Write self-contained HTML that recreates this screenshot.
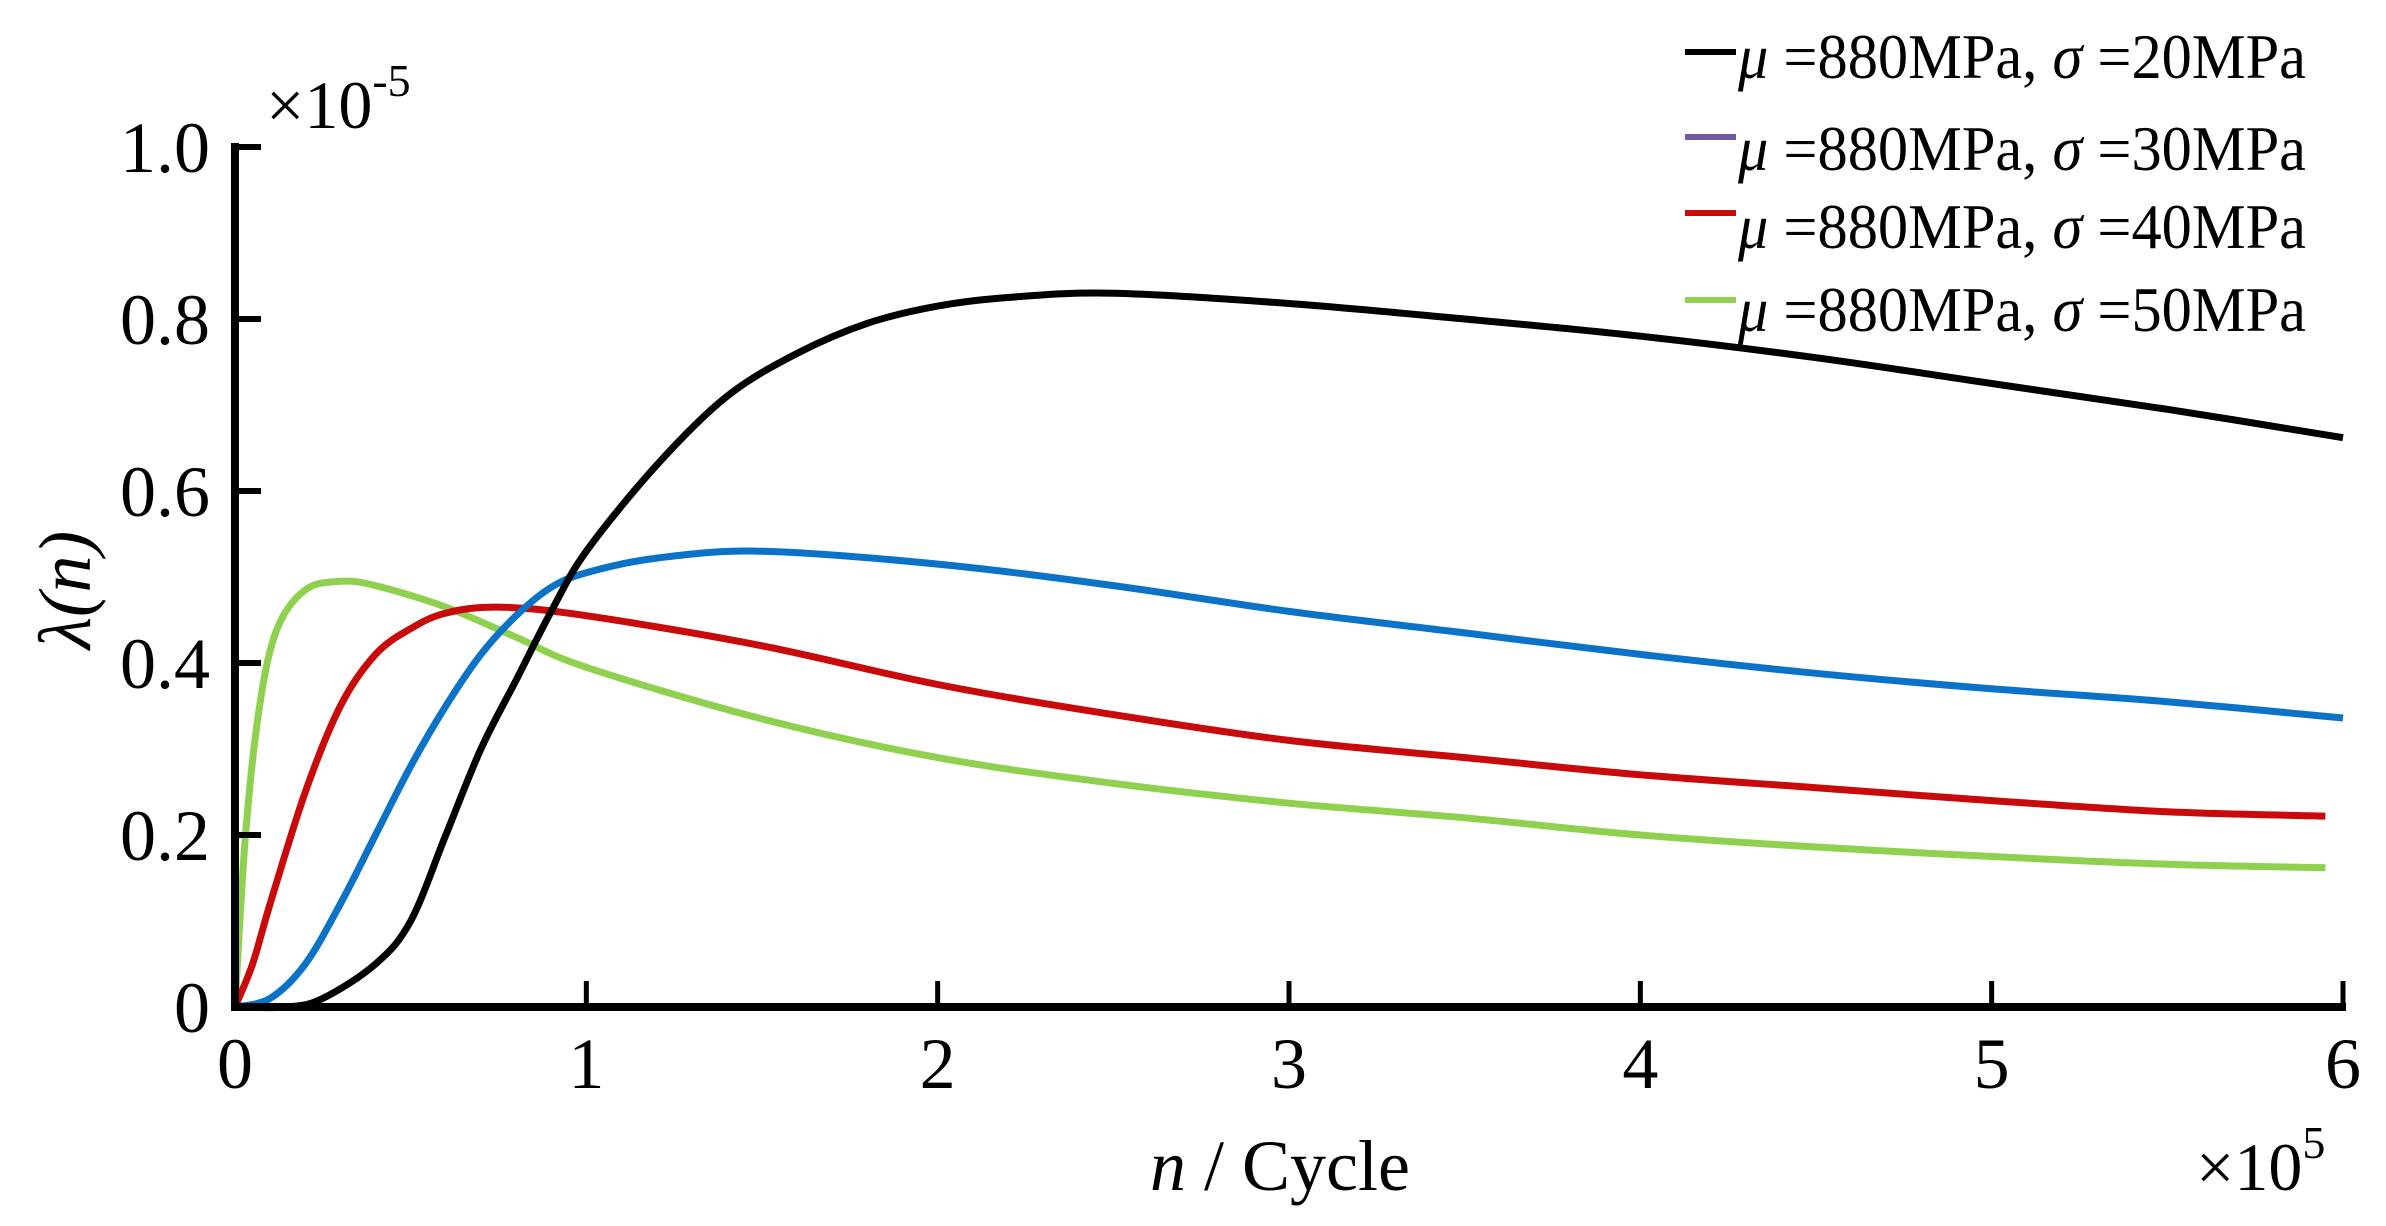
<!DOCTYPE html>
<html><head><meta charset="utf-8"><style>
html,body{margin:0;padding:0;background:#fff;}
svg{display:block;font-family:"Liberation Serif",serif;}
</style></head><body>
<svg id="chart" width="2386" height="1226" viewBox="0 0 2386 1226" xmlns="http://www.w3.org/2000/svg">
<g id="series"></g>
<g id="axes"></g>
<text x="266" y="128" font-size="68">×10<tspan font-size="46" dy="-32">-5</tspan></text>
<text x="2196" y="1190" font-size="68">×10<tspan font-size="46" dy="-32">5</tspan></text>
<text x="1150" y="1190" font-size="72"><tspan font-style="italic">n</tspan> / Cycle</text>
<text transform="translate(90,590) rotate(-90)" text-anchor="middle" font-size="74" font-style="italic">λ(n)</text>
<g id="legend"></g>
</svg>
<script>
const xTicks=[0,1,2,3,4,5,6];
const yTicks=[0,0.2,0.4,0.6,0.8,1.0];
const yTickLabels=["0","0.2","0.4","0.6","0.8","1.0"];
const seriesNames=["σ=20MPa","σ=30MPa","σ=40MPa","σ=50MPa"];
const xs20=[0,0.15,0.25,0.4,0.5,0.6,0.7,0.8,0.9,1.0,1.2,1.4,1.6,1.8,2.0,2.2,2.5,3.0,3.5,4.0,4.5,5.0,5.5,6.0];
const ys20=[0,0,0.01,0.05,0.1,0.2,0.3,0.38,0.46,0.53,0.63,0.71,0.76,0.795,0.815,0.825,0.83,0.818,0.8,0.78,0.755,0.725,0.695,0.662];
const xs30=[0,0.1,0.2,0.3,0.4,0.5,0.6,0.7,0.8,0.9,1.0,1.2,1.5,2.0,2.5,3.0,3.5,4.0,4.5,5.0,5.5,6.0];
const ys30=[0,0.01,0.05,0.12,0.2,0.28,0.35,0.41,0.455,0.488,0.505,0.522,0.53,0.515,0.49,0.46,0.435,0.41,0.388,0.37,0.355,0.336];
const xs40=[0,0.05,0.1,0.2,0.3,0.4,0.5,0.6,0.75,1.0,1.5,2.0,2.5,3.0,3.5,4.0,4.5,5.0,5.5,5.95];
const ys40=[0,0.05,0.12,0.25,0.35,0.41,0.44,0.458,0.465,0.455,0.42,0.375,0.34,0.31,0.29,0.27,0.255,0.24,0.227,0.222];
const xs50=[0,0.03,0.07,0.12,0.2,0.3,0.4,0.6,0.8,1.0,1.5,2.0,2.5,3.0,3.5,4.0,4.5,5.0,5.5,5.95];
const ys50=[0,0.2,0.35,0.44,0.485,0.495,0.49,0.465,0.43,0.395,0.335,0.29,0.26,0.237,0.22,0.2,0.186,0.175,0.166,0.162];
const colors=["#000000","#0a73c8","#c80a0a","#8fd14f"];
const legendColors=["#000000","#6e5aa0","#c80a0a","#8fd14f"];

const NS="http://www.w3.org/2000/svg";
const X0=235,X1=2343,Y0=1007,Y1=147;
function sx(v){return X0+(v-0)/(6-0)*(X1-X0);}
function sy(v){return Y0-(v-0)/(1-0)*(Y0-Y1);}
function mk(tag,attrs,parent){const e=document.createElementNS(NS,tag);for(const k in attrs)e.setAttribute(k,attrs[k]);parent.appendChild(e);return e;}
function smooth(px,py){
  let d="M"+px[0]+","+py[0];
  for(let i=0;i<px.length-1;i++){
    const p0=i>0?i-1:i,p3=i+2<px.length?i+2:i+1;
    const c1x=px[i]+(px[i+1]-px[p0])/6,c1y=py[i]+(py[i+1]-py[p0])/6;
    const c2x=px[i+1]-(px[p3]-px[i])/6,c2y=py[i+1]-(py[p3]-py[i])/6;
    d+=" C"+c1x.toFixed(1)+","+c1y.toFixed(1)+" "+c2x.toFixed(1)+","+c2y.toFixed(1)+" "+px[i+1].toFixed(1)+","+py[i+1].toFixed(1);
  }
  return d;
}
const sg=document.getElementById('series');
const allX=[xs20,xs30,xs40,xs50],allY=[ys20,ys30,ys40,ys50];
const sNames=['line-sigma-20','line-sigma-30','line-sigma-40','line-sigma-50'];
for(let s=3;s>=0;s--){
  const p=mk('path',{d:smooth(allX[s].map(sx),allY[s].map(sy)),fill:'none',stroke:colors[s],'stroke-width':7,'stroke-linejoin':'round'},sg);
  
  
}
const ag=document.getElementById('axes');
const yl=mk('line',{x1:X0,y1:Y1-4,x2:X0,y2:Y0+4,stroke:'#000','stroke-width':8},ag);


const xl=mk('line',{x1:X0-4,y1:Y0,x2:X1+3,y2:Y0,stroke:'#000','stroke-width':8},ag);


xTicks.forEach((t,i)=>{
  if(i>0){const tk=mk('line',{x1:sx(t),y1:Y0,x2:sx(t),y2:Y0-26,stroke:'#000','stroke-width':5},ag);
  
  }
  const lb=mk('text',{x:sx(t),y:1088,'text-anchor':'middle','font-size':72},ag);
  lb.textContent=String(t);
  
  
});
yTicks.forEach((t,i)=>{
  if(i>0){const tk=mk('line',{x1:X0,y1:sy(t),x2:X0+26,y2:sy(t),stroke:'#000','stroke-width':6},ag);
  
  }
  const lb=mk('text',{x:210,y:sy(t)+25,'text-anchor':'end','font-size':72},ag);
  lb.textContent=yTickLabels[i];
  
  
});
const lg=document.getElementById('legend');
const rowLineY=[52,137,213,300],rowTextY=[78,170,248,331];
seriesNames.forEach((n,i)=>{
  const ln=mk('line',{x1:1685,y1:rowLineY[i],x2:1736,y2:rowLineY[i],stroke:legendColors[i],'stroke-width':6},lg);
  
  
  const tx=mk('text',{x:1738,y:rowTextY[i],'font-size':64,textLength:568,lengthAdjust:'spacingAndGlyphs'},lg);
  const parts=n.split('=');
  tx.innerHTML='<tspan font-style="italic">μ</tspan> =880MPa, <tspan font-style="italic">σ</tspan> ='+parts[1];
  
  
});
</script>
</body></html>
